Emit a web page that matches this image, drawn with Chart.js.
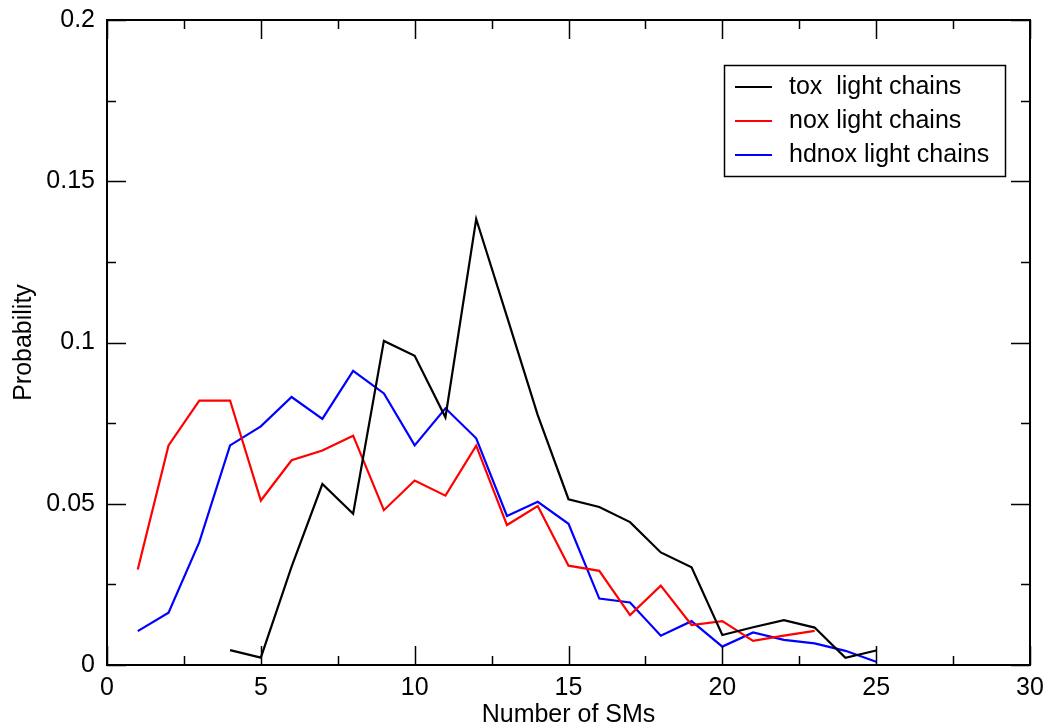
<!doctype html>
<html>
<head>
  <meta charset="utf-8">
  <title>Number of SMs</title>
  <script src="https://cdn.jsdelivr.net/npm/chart.js"></script>
  <style>
    html, body { margin: 0; padding: 0; background: #fff; }
    #wrap { width: 1045px; height: 726px; }
  </style>
</head>
<body>
  <div id="wrap"><canvas id="chart" width="1045" height="726"></canvas></div>
  <script>
    const seriesNames = ['tox  light chains', 'nox light chains', 'hdnox light chains'];
    const seriesColors = ['#000000', '#ff0000', '#0000ff'];

    const toxX = [4, 5, 6, 7, 8, 9, 10, 11, 12, 13, 14, 15, 16, 17, 18, 19, 20, 21, 22, 23, 24, 25];
    const toxY = [0.0046, 0.0023, 0.0305, 0.0561, 0.0469, 0.1005, 0.0959, 0.0768, 0.1383, 0.108, 0.0775,
                  0.0514, 0.0490, 0.0443, 0.0349, 0.0303, 0.0093, 0.0117, 0.0139, 0.0116, 0.0022, 0.0045];

    const noxX = [1, 2, 3, 4, 5, 6, 7, 8, 9, 10, 11, 12, 13, 14, 15, 16, 17, 18, 19, 20, 21, 22, 23];
    const noxY = [0.0296, 0.0681, 0.0820, 0.0820, 0.0510, 0.0635, 0.0665, 0.0711, 0.0480, 0.0572, 0.0525,
                  0.0680, 0.0434, 0.0493, 0.0308, 0.0292, 0.0155, 0.0246, 0.0124, 0.0136, 0.0075, 0.0091, 0.0106];

    const hdnoxX = [1, 2, 3, 4, 5, 6, 7, 8, 9, 10, 11, 12, 13, 14, 15, 16, 17, 18, 19, 20, 21, 22, 23, 24, 25];
    const hdnoxY = [0.0105, 0.0162, 0.0381, 0.0681, 0.0740, 0.0831, 0.0763, 0.0912, 0.0842, 0.0681, 0.0796,
                    0.0703, 0.0462, 0.0506, 0.0438, 0.0206, 0.0194, 0.0091, 0.0136, 0.0057, 0.0101, 0.0078,
                    0.0067, 0.0044, 0.0010];

    const xTickLabels = ['0', '5', '10', '15', '20', '25', '30'];
    const yTickLabels = ['0', '0.05', '0.1', '0.15', '0.2'];

    const FONT = 'Liberation Sans, Arial, Helvetica, sans-serif';

    function pts(xs, ys) {
      return xs.map((x, i) => ({ x: x, y: ys[i] }));
    }

    // frame with inward ticks on all four sides, plus the boxed legend
    const framePlugin = {
      id: 'frame',
      afterDatasetsDraw(chart) {
        const ctx = chart.ctx;
        const a = chart.chartArea;
        const xs = chart.scales.x, ys = chart.scales.y;
        ctx.save();
        ctx.strokeStyle = '#000';
        ctx.lineWidth = 1.5;
        for (let v = 0; v <= 30.001; v += 2.5) {
          const px = Math.round(xs.getPixelForValue(v)) + 0.5;
          const len = (Math.round(v * 10) % 50 === 0) ? 19 : 9;
          ctx.beginPath();
          ctx.moveTo(px, a.bottom); ctx.lineTo(px, a.bottom - len);
          ctx.moveTo(px, a.top); ctx.lineTo(px, a.top + len);
          ctx.stroke();
        }
        for (let k = 0; k <= 8; k++) {
          const py = Math.round(ys.getPixelForValue(k * 0.025)) + 0.5;
          const len = (k % 2 === 0) ? 19 : 9;
          ctx.beginPath();
          ctx.moveTo(a.left, py); ctx.lineTo(a.left + len, py);
          ctx.moveTo(a.right, py); ctx.lineTo(a.right - len, py);
          ctx.stroke();
        }
        ctx.lineWidth = 2;
        ctx.strokeRect(a.left, a.top, a.right - a.left, a.bottom - a.top);

        // legend
        ctx.lineWidth = 1.5;
        ctx.strokeRect(724.5, 65.5, 281, 111);
        ctx.font = '25px ' + FONT;
        ctx.textBaseline = 'middle';
        ctx.textAlign = 'left';
        const rows = [87, 121, 155];
        chart.data.datasets.forEach((ds, i) => {
          ctx.strokeStyle = ds.borderColor;
          ctx.lineWidth = 2;
          ctx.beginPath();
          ctx.moveTo(735, rows[i]); ctx.lineTo(772, rows[i]);
          ctx.stroke();
          ctx.fillStyle = '#000';
          ctx.fillText(ds.label, 789, rows[i]);
        });
        ctx.restore();
      }
    };

    new Chart(document.getElementById('chart'), {
      type: 'scatter',
      data: {
        datasets: [
          { label: seriesNames[0], data: pts(toxX, toxY), borderColor: seriesColors[0] },
          { label: seriesNames[1], data: pts(noxX, noxY), borderColor: seriesColors[1] },
          { label: seriesNames[2], data: pts(hdnoxX, hdnoxY), borderColor: seriesColors[2] }
        ].map(d => Object.assign(d, {
          showLine: true, borderWidth: 2.2, pointRadius: 0, fill: false, tension: 0
        }))
      },
      options: {
        responsive: false,
        animation: false,
        layout: { padding: { left: 0, right: 15, top: 20, bottom: 0 } },
        plugins: {
          legend: { display: false },
          tooltip: { enabled: false }
        },
        scales: {
          x: {
            type: 'linear', min: 0, max: 30,
            afterFit: s => { s.height = 61; s.paddingLeft = 0; s.paddingRight = 0; },
            grid: { display: false, drawTicks: false },
            border: { display: false },
            ticks: {
              stepSize: 5, padding: 8, color: '#000', maxRotation: 0,
              font: { family: FONT, size: 25 },
              callback: (v, i) => xTickLabels[i]
            },
            title: {
              display: true, text: 'Number of SMs', color: '#000',
              font: { family: FONT, size: 25 }, padding: { top: 0, bottom: -4 }
            }
          },
          y: {
            type: 'linear', min: 0, max: 0.2,
            afterFit: s => { s.width = 107; s.paddingTop = 0; s.paddingBottom = 0; },
            grid: { display: false, drawTicks: false },
            border: { display: false },
            ticks: {
              stepSize: 0.05, padding: 12, color: '#000',
              font: { family: FONT, size: 25 },
              callback: (v, i) => yTickLabels[i]
            },
            title: {
              display: true, text: 'Probability', color: '#000',
              font: { family: FONT, size: 25 }, padding: { top: 9, bottom: 0 }
            }
          }
        }
      },
      plugins: [framePlugin]
    });
  </script>
</body>
</html>
